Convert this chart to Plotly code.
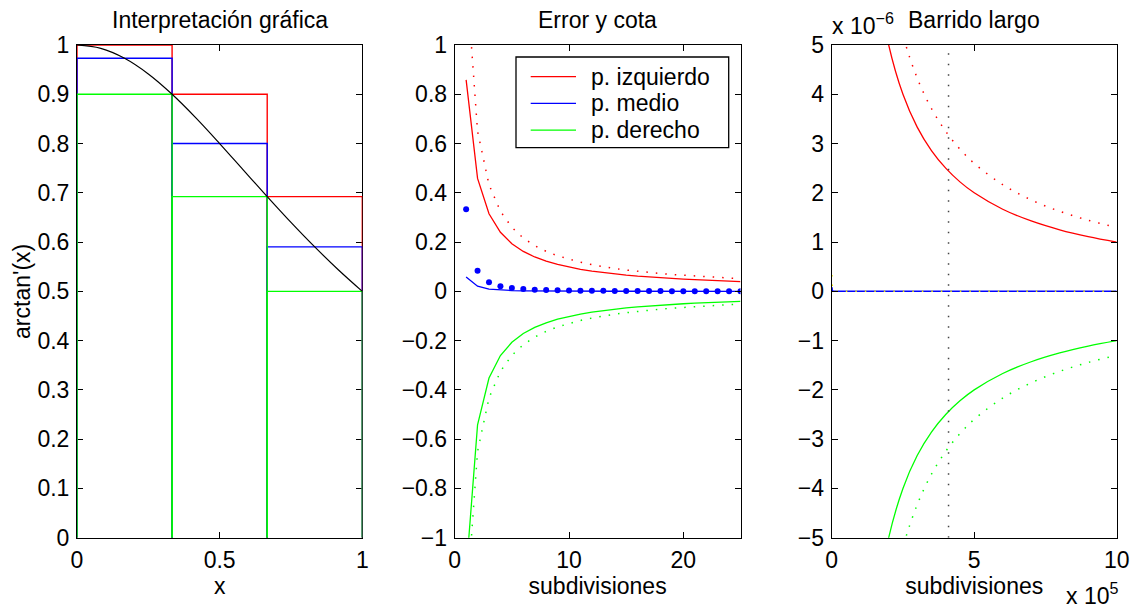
import plotly.graph_objects as go

W, H = 1136, 609
FONT = "Liberation Sans, Arial, Helvetica, sans-serif"
FS = 23
ROJO, AZUL, VERDE = "#ff0000", "#0000ff", "#00ff00"

# ---------- Panel 1: rectangles over arctan'(x) on [0, 1] ----------
bordes = [0.0, 0.3333, 0.6667, 1.0]
alt_izq = [1.0, 0.9, 0.6923]
alt_med = [0.9730, 0.8, 0.5902]
alt_der = [0.9, 0.6923, 0.5]

curva_x = [0.0, 0.0833, 0.1667, 0.25, 0.3333, 0.4167, 0.5,
           0.5833, 0.6667, 0.75, 0.8333, 0.9167, 1.0]
curva_y = [1.0, 0.9931, 0.9730, 0.9412, 0.9, 0.8521, 0.8,
           0.7461, 0.6923, 0.64, 0.5902, 0.5434, 0.5]

# ---------- Panel 2: error (x4) and its bound vs. subdivisions ----------
subdiv = list(range(1, 26))
err_izq = [0.8584, 0.4584, 0.3148, 0.2396, 0.1933, 0.1620, 0.1395, 0.1224,
           0.1091, 0.0983, 0.0895, 0.0822, 0.0759, 0.0706, 0.0659, 0.0618,
           0.0582, 0.0550, 0.0522, 0.0496, 0.0472, 0.0451, 0.0432, 0.0414,
           0.0397]
err_med = [0.0584, 0.0208, 0.0093, 0.0052, 0.0033, 0.0023, 0.0017, 0.0013,
           0.0010, 0.0008, 0.0007, 0.0006, 0.0005, 0.0004, 0.0004, 0.0003,
           0.0003, 0.0003, 0.0002, 0.0002, 0.0002, 0.0002, 0.0002, 0.0001,
           0.0001]
err_der = [-1.1416, -0.5416, -0.3519, -0.2604, -0.2067, -0.1713, -0.1462,
           -0.1276, -0.1131, -0.1017, -0.0923, -0.0845, -0.0779, -0.0723,
           -0.0674, -0.0632, -0.0594, -0.0561, -0.0531, -0.0504, -0.0480,
           -0.0458, -0.0438, -0.0419, -0.0403]
cota_izq = [1.299, 0.6495, 0.4330, 0.3248, 0.2598, 0.2165, 0.1856, 0.1624,
            0.1443, 0.1299, 0.1181, 0.1083, 0.0999, 0.0928, 0.0866, 0.0812,
            0.0764, 0.0722, 0.0684, 0.0650, 0.0619, 0.0590, 0.0565, 0.0541,
            0.0520]
cota_med = [0.3333, 0.0833, 0.0370, 0.0208, 0.0133, 0.0093, 0.0068, 0.0052,
            0.0041, 0.0033, 0.0028, 0.0023, 0.0020, 0.0017, 0.0015, 0.0013,
            0.0012, 0.0010, 0.0009, 0.0008, 0.0008, 0.0007, 0.0006, 0.0006,
            0.0005]
cota_der = [-v for v in cota_izq]

# ---------- Panel 3: long sweep ----------
barrido_n = [1e5, 1.5e5, 2e5, 2.5e5, 3e5, 3.5e5, 4e5, 4.5e5, 5e5,
             6e5, 7e5, 8e5, 9e5, 1e6]
barrido_izq = [1.0e-5, 6.667e-6, 5.0e-6, 4.0e-6, 3.333e-6, 2.857e-6, 2.5e-6,
               2.222e-6, 2.0e-6, 1.667e-6, 1.429e-6, 1.25e-6, 1.111e-6, 1.0e-6]
barrido_cota = [1.299e-5, 8.66e-6, 6.495e-6, 5.196e-6, 4.33e-6, 3.711e-6,
                3.248e-6, 2.887e-6, 2.598e-6, 2.165e-6, 1.856e-6, 1.624e-6,
                1.443e-6, 1.299e-6]
barrido_der = [-v for v in barrido_izq]
barrido_cota_der = [-v for v in barrido_cota]
medio_n = [1e3, 2e3, 5e3, 1e4, 1e5, 5e5, 1e6]
medio_err = [8.3e-8, 2.1e-8, 3.3e-9, 8.3e-10, 8.3e-12, 3.3e-13, 8.3e-14]
medio_cota = [3.3e-7, 8.3e-8, 1.3e-8, 3.3e-9, 3.3e-11, 1.3e-12, 3.3e-13]
n_marca = 4.1e5

leyenda = ["p. izquierdo", "p. medio", "p. derecho"]
colores = [ROJO, AZUL, VERDE]

fig = go.Figure()


def rect_path(alturas):
    xs, ys = [], []
    for i, h in enumerate(alturas):
        a, b = bordes[i], bordes[i + 1]
        xs += [a, a, b, b, None]
        ys += [0, h, h, 0, None]
    return xs, ys


for alturas, col in zip((alt_izq, alt_med, alt_der), colores):
    rx, ry = rect_path(alturas)
    fig.add_trace(go.Scatter(x=rx, y=ry, mode="lines", line=dict(color=col, width=1.4),
                             xaxis="x", yaxis="y", showlegend=False, hoverinfo="skip"))
fig.add_trace(go.Scatter(x=curva_x, y=curva_y, mode="lines",
                         line=dict(color="black", width=1.2, shape="spline"),
                         xaxis="x", yaxis="y", showlegend=False))

DOT = "1.5px,8px"
# panel 2
for ys, col, nombre in zip((err_izq, err_med, err_der), colores, leyenda):
    fig.add_trace(go.Scatter(x=subdiv, y=ys, mode="lines", name=nombre, showlegend=False,
                             line=dict(color=col, width=1.3), xaxis="x2", yaxis="y2"))
fig.add_trace(go.Scatter(x=subdiv, y=cota_izq, mode="lines", showlegend=False,
                         line=dict(color=ROJO, width=1.5, dash=DOT), xaxis="x2", yaxis="y2"))
fig.add_trace(go.Scatter(x=subdiv, y=cota_der, mode="lines", showlegend=False,
                         line=dict(color=VERDE, width=1.5, dash=DOT), xaxis="x2", yaxis="y2"))
fig.add_trace(go.Scatter(x=subdiv, y=cota_med, mode="markers", showlegend=False,
                         marker=dict(color=AZUL, size=6), xaxis="x2", yaxis="y2"))

# panel 3
fig.add_trace(go.Scatter(x=barrido_n, y=barrido_izq, mode="lines", showlegend=False,
                         line=dict(color=ROJO, width=1.3, shape="spline"), xaxis="x3", yaxis="y3"))
fig.add_trace(go.Scatter(x=barrido_n, y=barrido_der, mode="lines", showlegend=False,
                         line=dict(color=VERDE, width=1.3, shape="spline"), xaxis="x3", yaxis="y3"))
fig.add_trace(go.Scatter(x=barrido_n, y=barrido_cota, mode="lines", showlegend=False,
                         line=dict(color=ROJO, width=1.5, dash=DOT, shape="spline"),
                         xaxis="x3", yaxis="y3"))
fig.add_trace(go.Scatter(x=barrido_n, y=barrido_cota_der, mode="lines", showlegend=False,
                         line=dict(color=VERDE, width=1.5, dash=DOT, shape="spline"),
                         xaxis="x3", yaxis="y3"))
fig.add_trace(go.Scatter(x=medio_n, y=medio_err, mode="lines", showlegend=False,
                         line=dict(color=AZUL, width=1.5), xaxis="x3", yaxis="y3"))
fig.add_trace(go.Scatter(x=medio_n, y=medio_cota, mode="lines", showlegend=False,
                         line=dict(color="#e8e800", width=1.5, dash=DOT), xaxis="x3", yaxis="y3"))
fig.add_trace(go.Scatter(x=[n_marca, n_marca], y=[-5e-6, 5e-6], mode="lines", showlegend=False,
                         line=dict(color="#444444", width=1.5, dash="1.5px,9px"),
                         xaxis="x3", yaxis="y3"))

top, bot = 45, 537.7
ydom = [1 - bot / H, 1 - top / H]
paneles = [(77, 362.3), (454.7, 740.5), (831.7, 1116.7)]
dom = [[a / W, b / W] for a, b in paneles]

eje = dict(showline=True, linecolor="black", linewidth=1, mirror="ticks",
           ticks="inside", ticklen=6, tickcolor="black", tickwidth=1,
           showgrid=False, zeroline=False, automargin=False,
           tickfont=dict(family=FONT, size=FS, color="black"))
ejex = dict(eje, ticklabelstandoff=2)
ejey = dict(eje, ticklabelstandoff=2)
tit = dict(family=FONT, size=FS, color="black")

fig.update_layout(
    width=W, height=H, margin=dict(l=0, r=0, t=0, b=0, autoexpand=False),
    paper_bgcolor="white", plot_bgcolor="white",
    font=dict(family=FONT, size=FS, color="black"),
    xaxis=dict(ejex, domain=dom[0], range=[0, 1], tickvals=[0, 0.5, 1],
               ticktext=["0", "0.5", "1"], anchor="y", layer="below traces",
               title=dict(text="x", standoff=4, font=tit)),
    yaxis=dict(ejey, domain=ydom, range=[0, 1], tickvals=[i / 10 for i in range(11)],
               ticktext=["0", "0.1", "0.2", "0.3", "0.4", "0.5", "0.6", "0.7", "0.8", "0.9", "1"],
               anchor="x", layer="below traces",
               title=dict(text="arctan'(x)", standoff=0, font=tit)),
    xaxis2=dict(ejex, domain=dom[1], range=[0, 25], tickvals=[0, 10, 20],
                ticktext=["0", "10", "20"], anchor="y2",
                title=dict(text="subdivisiones", standoff=4, font=tit)),
    yaxis2=dict(ejey, domain=ydom, range=[-1, 1], anchor="x2",
                tickvals=[-1, -0.8, -0.6, -0.4, -0.2, 0, 0.2, 0.4, 0.6, 0.8, 1],
                ticktext=["\u22121", "\u22120.8", "\u22120.6", "\u22120.4", "\u22120.2", "0",
                          "0.2", "0.4", "0.6", "0.8", "1"]),
    xaxis3=dict(ejex, domain=dom[2], range=[0, 1e6], tickvals=[0, 5e5, 1e6],
                ticktext=["0", "5", "10"], anchor="y3",
                title=dict(text="subdivisiones", standoff=4, font=tit)),
    yaxis3=dict(ejey, domain=ydom, range=[-5e-6, 5e-6], anchor="x3",
                tickvals=[k * 1e-6 for k in range(-5, 6)],
                ticktext=["\u22125", "\u22124", "\u22123", "\u22122", "\u22121", "0",
                          "1", "2", "3", "4", "5"]),
    showlegend=False,
)

# legend box for the error panel
lx0, lx1, ly0, ly1 = 516, 728.7, 57, 147.7
fig.add_shape(type="rect", xref="paper", yref="paper", x0=lx0 / W, x1=lx1 / W,
              y0=1 - ly1 / H, y1=1 - ly0 / H, line=dict(color="black", width=1.3),
              fillcolor="white", layer="above")
for k, (nombre, col) in enumerate(zip(leyenda, colores)):
    yk = 76.7 + k * 26.7
    fig.add_shape(type="line", xref="paper", yref="paper", x0=530.7 / W, x1=576 / W,
                  y0=1 - yk / H, y1=1 - yk / H, line=dict(color=col, width=1.3), layer="above")
    fig.add_annotation(text=nombre, x=589 / W, y=1 - yk / H, xref="paper", yref="paper",
                       showarrow=False, xanchor="left", yanchor="middle", font=tit)

titulos = [("Interpretación gráfica", dom[0]), ("Error y cota", dom[1]),
           ("Barrido largo", dom[2])]
for txt, d in titulos:
    fig.add_annotation(text=txt, x=(d[0] + d[1]) / 2, y=1 - 20 / H, xref="paper", yref="paper",
                       showarrow=False, font=tit, xanchor="center", yanchor="middle")

fig.add_annotation(text="x 10<sup>\u22126</sup>", x=830 / W, y=1 - 24 / H, xref="paper",
                   yref="paper", showarrow=False, xanchor="left", yanchor="middle", font=tit)
fig.add_annotation(text="x 10<sup>5</sup>", x=1064 / W, y=1 - 594 / H, xref="paper",
                   yref="paper", showarrow=False, xanchor="left", yanchor="middle", font=tit)

fig.write_html("out.html")
